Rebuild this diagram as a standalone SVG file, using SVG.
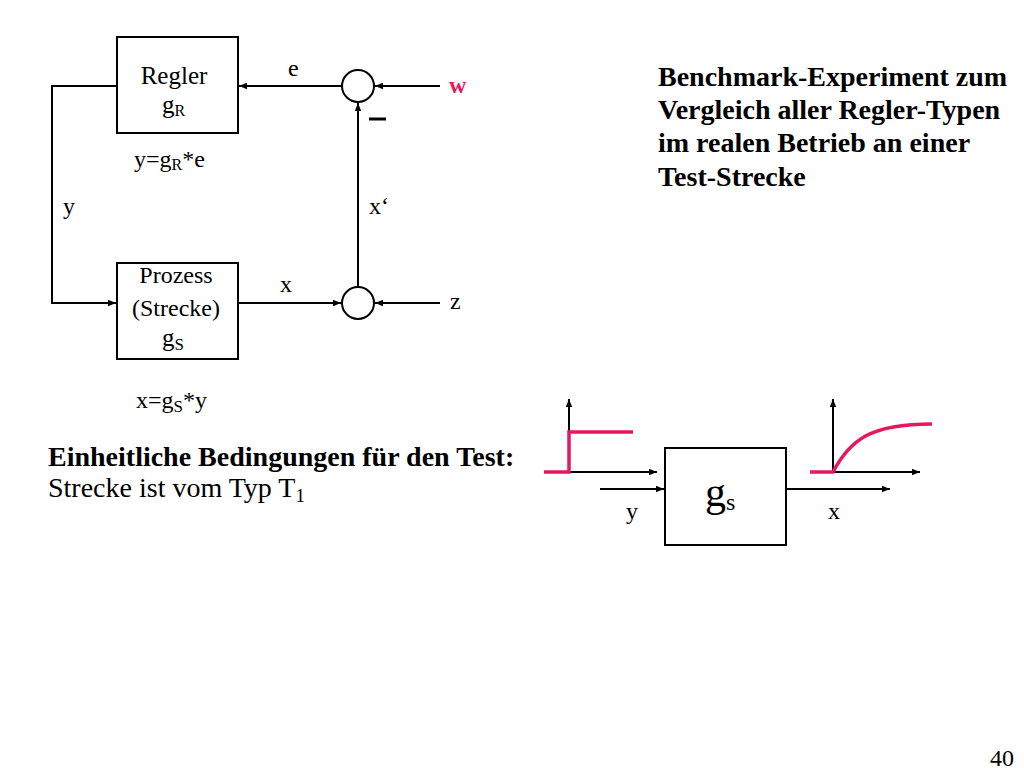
<svg xmlns="http://www.w3.org/2000/svg" width="1024" height="768" viewBox="0 0 1024 768">
<defs>
<marker id="a" viewBox="0 0 10 10" refX="10" refY="5" markerWidth="8" markerHeight="8" orient="auto" markerUnits="userSpaceOnUse"><path d="M0,1 L10,5 L0,9 z" fill="#000"/></marker>
</defs>
<style>
text{font-family:"Liberation Serif","Times New Roman",serif;fill:#000}
.b{fill:#fff;stroke:#000;stroke-width:2}
.l{fill:none;stroke:#000;stroke-width:2}
.p{fill:none;stroke:#e8175d;stroke-width:3.5}
</style>
<rect width="1024" height="768" fill="#fff"/>
<g id="regler"><rect class="b" x="117" y="37" width="121" height="96"/>
<text x="174" y="84" font-size="25" text-anchor="middle">Regler</text>
<text x="162" y="113" font-size="25">g<tspan font-size="16" dy="3">R</tspan></text></g>
<g id="prozess"><rect class="b" x="117" y="263" width="121" height="96"/>
<text x="176" y="283" font-size="24" text-anchor="middle">Prozess</text>
<text x="176" y="316" font-size="24" text-anchor="middle">(Strecke)</text>
<text x="162" y="346" font-size="25">g<tspan font-size="17" dy="4">S</tspan></text></g>
<g id="sum1"><circle class="b" cx="358" cy="86" r="16"/></g>
<g id="sum2"><circle class="b" cx="358" cy="303" r="16"/></g>
<g id="gs"><rect class="b" x="665" y="448" width="121" height="97"/>
<text x="705" y="506" font-size="42">g<tspan font-size="24" dy="4">s</tspan></text></g>
<g id="connectors">
<path class="l" d="M342,86 H239" marker-end="url(#a)"/>
<path class="l" d="M440,86 H375" marker-end="url(#a)"/>
<path class="l" d="M117,86 H52 V303 H116" marker-end="url(#a)"/>
<path class="l" d="M238,303 H341" marker-end="url(#a)"/>
<path class="l" d="M440,303 H375" marker-end="url(#a)"/>
<path class="l" d="M358,287 V103" marker-end="url(#a)"/>
<path class="l" d="M600,489 H664" marker-end="url(#a)"/>
<path class="l" d="M786,489 H890" marker-end="url(#a)"/>
<path class="l" d="M569,472 V399" marker-end="url(#a)"/>
<path class="l" d="M569,472 H657" marker-end="url(#a)"/>
<path class="l" d="M833,472 V399" marker-end="url(#a)"/>
<path class="l" d="M833,472 H920" marker-end="url(#a)"/>
<path class="p" d="M544,472 H569 V432 H633"/>
<path class="p" d="M810,472 H833 C850,440 870,424 932,424"/>
<path d="M369,119 H386" stroke="#000" stroke-width="3"/>
</g>
<g id="labels" font-size="24">
<text x="288" y="76">e</text>
<text x="449" y="93" style="fill:#e8175d" font-weight="bold">w</text>
<text x="134" y="167">y=g<tspan font-size="16" dy="3">R</tspan><tspan dy="-3">*e</tspan></text>
<text x="63" y="214">y</text>
<text x="369" y="214">x‘</text>
<text x="280" y="292">x</text>
<text x="450" y="309">z</text>
<text x="136" y="408">x=g<tspan font-size="17" dy="4">S</tspan><tspan dy="-4">*y</tspan></text>
<text x="626" y="519">y</text>
<text x="828" y="519">x</text>
</g>
<g id="text" font-size="28">
<text x="658" y="86" font-weight="bold">Benchmark-Experiment zum</text>
<text x="658" y="119" font-weight="bold">Vergleich aller Regler-Typen</text>
<text x="658" y="152" font-weight="bold">im realen Betrieb an einer</text>
<text x="658" y="186" font-weight="bold">Test-Strecke</text>
<text x="48" y="466" font-weight="bold">Einheitliche Bedingungen für den Test:</text>
<text x="48" y="497">Strecke ist vom Typ T<tspan font-size="19" dy="5">1</tspan></text>
<text x="990" y="766" font-size="24">40</text>
</g>
</svg>
